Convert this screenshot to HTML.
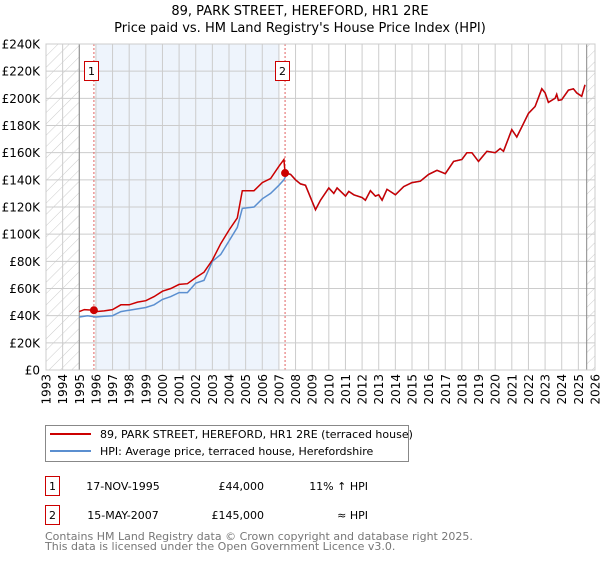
<!DOCTYPE html>
<html><head><meta charset="utf-8"><style>
body{margin:0;background:#fff;}
svg text{font-family:"DejaVu Sans","Liberation Sans",sans-serif;}
</style></head><body>
<svg id="chart" width="600" height="560" xmlns="http://www.w3.org/2000/svg">
<defs>
<pattern id="hatch" patternUnits="userSpaceOnUse" width="8" height="8" patternTransform="rotate(45)">
<line x1="0" y1="0" x2="0" y2="8" stroke="#ccc" stroke-width="1"/>
</pattern>
</defs>
<text x="300" y="15" font-size="13" text-anchor="middle">89, PARK STREET, HEREFORD, HR1 2RE</text>
<text x="300" y="32" font-size="13" text-anchor="middle">Price paid vs. HM Land Registry's House Price Index (HPI)</text>
<g id="plot"></g>
<g>
<rect x="45.5" y="425.5" width="363" height="36" fill="#fff" stroke="#888"/>
<line x1="50" y1="434" x2="91" y2="434" stroke="#cc0000" stroke-width="2"/>
<text x="100" y="438" font-size="11">89, PARK STREET, HEREFORD, HR1 2RE (terraced house)</text>
<line x1="50" y1="451" x2="91" y2="451" stroke="#5b8fd0" stroke-width="2"/>
<text x="100" y="455" font-size="11">HPI: Average price, terraced house, Herefordshire</text>
</g>
<g font-size="11">
<rect x="45.5" y="476.5" width="14" height="19" fill="#fff" stroke="#cc0000"/>
<text x="52.5" y="490" text-anchor="middle">1</text>
<text x="123" y="490" text-anchor="middle">17-NOV-1995</text>
<text x="264" y="490" text-anchor="end">£44,000</text>
<text x="368" y="490" text-anchor="end">11% ↑ HPI</text>
<rect x="45.5" y="505.5" width="14" height="19" fill="#fff" stroke="#cc0000"/>
<text x="52.5" y="519" text-anchor="middle">2</text>
<text x="123" y="519" text-anchor="middle">15-MAY-2007</text>
<text x="264" y="519" text-anchor="end">£145,000</text>
<text x="368" y="519" text-anchor="end">≈ HPI</text>
</g>
<text x="45" y="540" font-size="11" fill="#777">Contains HM Land Registry data © Crown copyright and database right 2025.</text>
<text x="45" y="550" font-size="11" fill="#777">This data is licensed under the Open Government Licence v3.0.</text>
</svg>
<script>
const yTicks=[0,20000,40000,60000,80000,100000,120000,140000,160000,180000,200000,220000,240000];
const yTickLabels=["£0","£20K","£40K","£60K","£80K","£100K","£120K","£140K","£160K","£180K","£200K","£220K","£240K"];
const xTicks=[1993,1994,1995,1996,1997,1998,1999,2000,2001,2002,2003,2004,2005,2006,2007,2008,2009,2010,2011,2012,2013,2014,2015,2016,2017,2018,2019,2020,2021,2022,2023,2024,2025,2026];
const paidYears=[1995,1995.3,1995.88,1996,1996.5,1997,1997.5,1998,1998.5,1999,1999.5,2000,2000.5,2001,2001.5,2002,2002.5,2003,2003.5,2004,2004.5,2004.8,2005.5,2006,2006.5,2007,2007.3,2007.37,2007.7,2008,2008.3,2008.6,2009,2009.2,2009.5,2010,2010.3,2010.5,2011,2011.2,2011.5,2012,2012.2,2012.5,2012.8,2013,2013.2,2013.5,2014,2014.5,2015,2015.5,2016,2016.5,2017,2017.5,2018,2018.3,2018.6,2019,2019.5,2020,2020.3,2020.5,2021,2021.3,2021.6,2022,2022.4,2022.8,2023,2023.2,2023.6,2023.7,2023.8,2024,2024.4,2024.7,2024.9,2025.2,2025.4];
const paidValues=[43000,44500,44000,43000,43500,44500,48000,48000,50000,51000,54000,58000,60000,63000,63500,68000,72000,81000,93000,103000,112000,132000,132000,138000,141000,150000,155000,145000,144000,140000,137000,136000,124000,118000,125000,134000,130000,134000,128000,131500,129000,127000,125000,132000,128000,129000,125000,133000,129000,135000,138000,139000,144000,147000,144500,153600,155000,160000,160000,153600,161000,160000,163000,161000,177000,171500,179000,189000,194000,207000,204000,197000,200000,203000,198500,199000,206000,207000,204000,201500,210000];
const hpiYears=[1995,1995.5,1996,1996.5,1997,1997.5,1998,1998.5,1999,1999.5,2000,2000.5,2001,2001.5,2002,2002.5,2003,2003.5,2004,2004.5,2004.8,2005.5,2006,2006.5,2007,2007.3,2007.5,2007.7,2008,2008.3,2008.6,2009,2009.2,2009.5,2010,2010.3,2010.5,2011,2011.2,2011.5,2012,2012.2,2012.5,2012.8,2013,2013.2,2013.5,2014,2014.5,2015,2015.5,2016,2016.5,2017,2017.5,2018,2018.3,2018.6,2019,2019.5,2020,2020.3,2020.5,2021,2021.3,2021.6,2022,2022.4,2022.8,2023,2023.2,2023.6,2023.7,2023.8,2024,2024.4,2024.7,2024.9,2025.2,2025.4];
const hpiValues=[39000,40000,39000,39500,40000,43000,44000,45000,46000,48000,52000,54000,57000,57000,64000,66000,80000,85000,95000,105000,119000,120000,126000,130000,136000,140000,145000,144000,140000,137000,136000,124000,118000,125000,134000,130000,134000,128000,131500,129000,127000,125000,132000,128000,129000,125000,133000,129000,135000,138000,139000,144000,147000,144500,153600,155000,160000,160000,153600,161000,160000,163000,161000,177000,171500,179000,189000,194000,207000,204000,197000,200000,203000,198500,199000,206000,207000,204000,201500,210000];
const saleYears=[1995.88,2007.37];
const saleValues=[44000,145000];
const saleLabels=["1","2"];

const L=46,R=595,T=44,B=370,X0=1993,X1=2026,YMAX=240000;
const NS="http://www.w3.org/2000/svg";
function sx(v){return L+(v-X0)/(X1-X0)*(R-L);}
function sy(v){return B-v/YMAX*(B-T);}
const g=document.getElementById('plot');
function mk(tag,attrs){const e=document.createElementNS(NS,tag);for(const k in attrs)e.setAttribute(k,attrs[k]);g.appendChild(e);return e;}
let e;
e=mk('rect',{x:L,y:T,width:R-L,height:B-T,fill:'#fff'});


e=mk('rect',{x:sx(1996),y:T,width:sx(2007)-sx(1996),height:B-T,fill:'#eef4fc'});


e=mk('rect',{x:L,y:T,width:sx(1995)-L,height:B-T,fill:'url(#hatch)'});


e=mk('rect',{x:sx(2025.5),y:T,width:R-sx(2025.5),height:B-T,fill:'url(#hatch)'});


xTicks.forEach(t=>{
 e=mk('line',{x1:sx(t),x2:sx(t),y1:T,y2:B,stroke:'#ccc','stroke-width':1});
 
 
 e=mk('text',{x:0,y:0,'font-size':12,'text-anchor':'end',transform:`translate(${sx(t)+4.5},374) rotate(-90)`});
 e.textContent=t;
 
 
});
yTicks.forEach((t,i)=>{
 e=mk('line',{x1:L,x2:R,y1:sy(t),y2:sy(t),stroke:'#ccc','stroke-width':1});
 
 
 e=mk('text',{x:40,y:sy(t)+4.5,'font-size':12,'text-anchor':'end'});
 e.textContent=yTickLabels[i];
 
 
});
e=mk('line',{x1:sx(1995),x2:sx(1995),y1:T,y2:B,stroke:'#888'});


e=mk('line',{x1:sx(2025.5),x2:sx(2025.5),y1:T,y2:B,stroke:'#888'});


saleYears.forEach((y,i)=>{
 e=mk('line',{x1:sx(y),x2:sx(y),y1:T,y2:B,stroke:'#e06060','stroke-dasharray':'2,2'});
 
 
});
function path(xs,vs){return xs.map((x,i)=>(i?'L':'M')+sx(x).toFixed(1)+','+sy(vs[i]).toFixed(1)).join('');}
e=mk('path',{d:path(hpiYears,hpiValues),fill:'none',stroke:'#5b8fd0','stroke-width':1.5});


e=mk('path',{d:path(paidYears,paidValues),fill:'none',stroke:'#cc0000','stroke-width':1.5});


saleYears.forEach((y,i)=>{
 e=mk('circle',{cx:sx(y),cy:sy(saleValues[i]),r:4,fill:'#cc0000'});
 
 
 const bx=sx(y)-10;
 e=mk('rect',{x:Math.round(bx)+0.5,y:61.5,width:14,height:19,fill:'#fff',stroke:'#cc0000'});
 
 
 e=mk('text',{x:Math.round(bx)+7.5,y:75,'font-size':11,'text-anchor':'middle'});
 e.textContent=saleLabels[i];
 
 
});
e=mk('rect',{x:L,y:T,width:R-L,height:B-T,fill:'none',stroke:'#ccc'});


</script>
</body></html>
